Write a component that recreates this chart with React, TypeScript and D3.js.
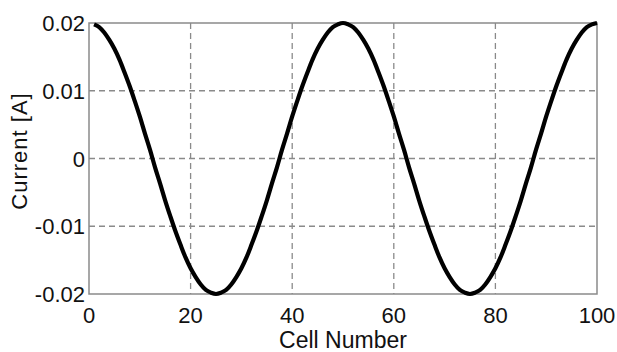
import React, { useEffect, useRef } from "react";
import * as d3 from "d3";

// current per cell, cells 1..100
const firstHalf = [
  0.0198, 0.0194, 0.0186, 0.0175, 0.0162, 0.0146, 0.0127, 0.0107, 0.0085, 0.0062,
  0.0037, 0.0013, -0.0013, -0.0037, -0.0062, -0.0085, -0.0107, -0.0127, -0.0146, -0.0162,
  -0.0175, -0.0186, -0.0194, -0.0198, -0.02, -0.0198, -0.0194, -0.0186, -0.0175, -0.0162,
  -0.0146, -0.0127, -0.0107, -0.0085, -0.0062, -0.0037, -0.0013, 0.0013, 0.0037, 0.0062,
  0.0085, 0.0107, 0.0127, 0.0146, 0.0162, 0.0175, 0.0186, 0.0194, 0.0198, 0.02,
];
const secondHalf = [
  0.0198, 0.0194, 0.0186, 0.0175, 0.0162, 0.0146, 0.0127, 0.0107, 0.0085, 0.0062,
  0.0037, 0.0013, -0.0013, -0.0037, -0.0062, -0.0085, -0.0107, -0.0127, -0.0146, -0.0162,
  -0.0175, -0.0186, -0.0194, -0.0198, -0.02, -0.0198, -0.0194, -0.0186, -0.0175, -0.0162,
  -0.0146, -0.0127, -0.0107, -0.0085, -0.0062, -0.0037, -0.0013, 0.0013, 0.0037, 0.0062,
  0.0085, 0.0107, 0.0127, 0.0146, 0.0162, 0.0175, 0.0186, 0.0194, 0.0198, 0.02,
];
const current = [...firstHalf, ...secondHalf];
const cells = current.map((_, i) => i + 1);

const xTicks = [0, 20, 40, 60, 80, 100];
const yTicks = [-0.02, -0.01, 0, 0.01, 0.02];
const yTickLabels = ["-0.02", "-0.01", "0", "0.01", "0.02"];

const W = 617;
const H = 352;
const FONT = "'Liberation Sans', Arial, sans-serif";

export default function App() {
  const svgRef = useRef<SVGSVGElement>(null);

  useEffect(() => {
    const svg = d3.select(svgRef.current);
    svg.selectAll("*").remove();

    const left = 89, right = 597, top = 23, bottom = 294;

    const x = d3.scaleLinear().domain([0, 100]).range([left, right]);
    const y = d3.scaleLinear().domain([-0.02, 0.02]).range([bottom, top]);

    svg.append("rect").attr("width", W).attr("height", H).attr("fill", "#fff");

    // dashed grid
    const grid = svg.append("g")
      .attr("stroke", "#8a8a8a")
      .attr("stroke-width", 1.3)
      .attr("stroke-dasharray", "6,4");
    xTicks.slice(1, -1).forEach((t) => {
      grid.append("line").attr("x1", x(t)).attr("x2", x(t)).attr("y1", top).attr("y2", bottom);
    });
    yTicks.slice(1, -1).forEach((t) => {
      grid.append("line").attr("x1", left).attr("x2", right).attr("y1", y(t)).attr("y2", y(t));
    });

    // frame
    svg.append("rect")
      .attr("x", left).attr("y", top)
      .attr("width", right - left).attr("height", bottom - top)
      .attr("fill", "none").attr("stroke", "#8a8a8a").attr("stroke-width", 1.5);

    // curve
    const line = d3.line<number>()
      .x((_, i) => x(cells[i]))
      .y((d) => y(d))
      .curve(d3.curveCatmullRom);
    svg.append("path")
      .datum(current)
      .attr("d", line)
      .attr("fill", "none")
      .attr("stroke", "#000")
      .attr("stroke-width", 4.2)
      .attr("stroke-linejoin", "round");

    // y tick labels
    yTicks.forEach((t, i) => {
      svg.append("text")
        .attr("x", 85).attr("y", y(t) + 8)
        .attr("text-anchor", "end")
        .style("font-family", FONT).style("font-size", "22px").style("fill", "#111")
        .text(yTickLabels[i]);
    });

    // x tick labels
    xTicks.forEach((t) => {
      svg.append("text")
        .attr("x", x(t)).attr("y", 323)
        .attr("text-anchor", "middle")
        .style("font-family", FONT).style("font-size", "22px").style("fill", "#111")
        .text(String(t));
    });

    svg.append("text")
      .attr("x", (left + right) / 2).attr("y", 348)
      .attr("text-anchor", "middle")
      .style("font-family", FONT).style("font-size", "23px").style("fill", "#111")
      .text("Cell Number");

    svg.append("text")
      .attr("transform", `translate(27,151) rotate(-90)`)
      .attr("text-anchor", "middle")
      .style("font-family", FONT).style("font-size", "22px").style("fill", "#111")
      .style("letter-spacing", "1px")
      .text("Current [A]");
  }, []);

  return (
    <svg
      ref={svgRef}
      width={W}
      height={H}
      style={{ position: "absolute", left: 0, top: 0, display: "block" }}
    />
  );
}
